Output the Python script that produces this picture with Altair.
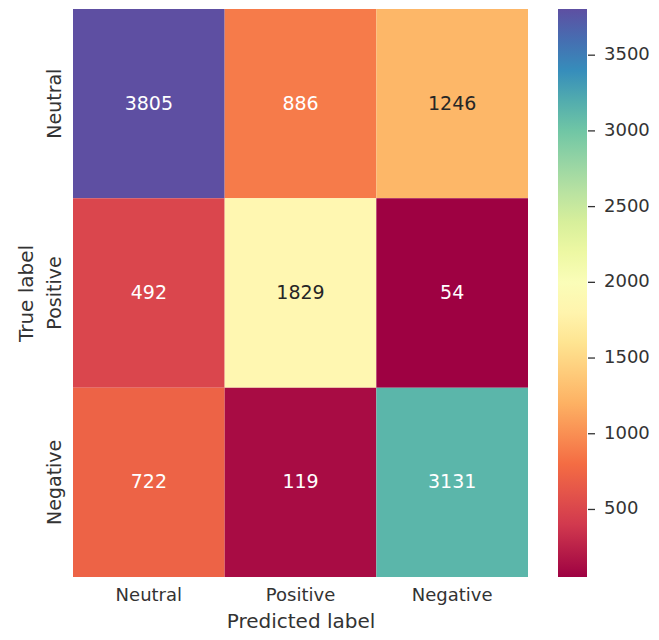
import altair as alt
import pandas as pd

labels = ["Neutral", "Positive", "Negative"]
true_labels = ["Neutral", "Neutral", "Neutral",
               "Positive", "Positive", "Positive",
               "Negative", "Negative", "Negative"]
pred_labels = ["Neutral", "Positive", "Negative"] * 3
counts = [3805, 886, 1246,
          492, 1829, 54,
          722, 119, 3131]
cbar_ticks = [500, 1000, 1500, 2000, 2500, 3000, 3500]

vmin, vmax = 54, 3805
spectral = ['#9e0142', '#d53e4f', '#f46d43', '#fdae61', '#fee08b', '#ffffbf',
            '#e6f598', '#abdda4', '#66c2a5', '#3288bd', '#5e4fa2']
stops = [vmin + i * (vmax - vmin) / 10 for i in range(11)]

df = pd.DataFrame({"true": true_labels, "pred": pred_labels, "value": counts})
ticks_df = pd.DataFrame({"t": cbar_ticks})

W, H = 455, 568
TXT = "#333333"
LEG_OFF = 30
GT = 29

x_enc = alt.X("pred:N", sort=labels,
              scale=alt.Scale(paddingInner=0, paddingOuter=0),
              axis=alt.Axis(title="Predicted label", labelAngle=0, ticks=False, tickSize=0,
                            domain=False, labelPadding=9, labelFontSize=18,
                            labelColor=TXT, titleFontSize=20, titleColor=TXT,
                            titleFontWeight="normal", titleBaseline="alphabetic",
                            titleX=W / 2, titleY=50, titleAlign="center"))
y_enc = alt.Y("true:N", sort=labels,
              scale=alt.Scale(paddingInner=0, paddingOuter=0),
              axis=alt.Axis(title="True label", labelAngle=270, labelAlign="center",
                            labelBaseline="alphabetic", ticks=False, tickSize=0,
                            domain=False, labelPadding=13, labelFontSize=19,
                            labelColor=TXT, titleFontSize=20, titleColor=TXT,
                            titleFontWeight="normal", titleAngle=270,
                            titleBaseline="alphabetic", titleX=-41, titleY=H / 2,
                            titleAlign="center"))

rect = alt.Chart(df).mark_rect().encode(
    x=x_enc,
    y=y_enc,
    color=alt.Color("value:Q", title=None,
                    scale=alt.Scale(domain=stops, range=spectral, interpolate="rgb"),
                    legend=alt.Legend(orient="none", legendX=W + LEG_OFF, legendY=0,
                                      direction="vertical",
                                      padding=0, gradientLength=H, gradientThickness=GT,
                                      gradientStrokeWidth=0, values=cbar_ticks, format="d",
                                      labelFontSize=18, labelColor=TXT, labelOffset=17,
                                      labelAlign="left", labelOverlap=False)),
)

text = alt.Chart(df).mark_text(fontSize=19, font="DejaVu Sans").encode(
    x=x_enc,
    y=alt.Y("true:N", sort=labels, scale=alt.Scale(paddingInner=0, paddingOuter=0), axis=None),
    text=alt.Text("value:Q", format="d"),
    color=alt.condition("datum.value > 1000 && datum.value < 2800",
                        alt.value("#262626"), alt.value("#ffffff")),
)

yq = alt.Y("t:Q", scale=alt.Scale(domain=[vmin, vmax], nice=False, zero=False), axis=None)
cbar_tick_marks = alt.Chart(ticks_df).mark_rule(color=TXT, strokeWidth=1.3).encode(
    y=yq, x=alt.value(W + LEG_OFF + GT + 1), x2=alt.value(W + LEG_OFF + GT + 8))

chart = alt.layer(rect, text, cbar_tick_marks).resolve_scale(
    y="independent"
).properties(
    width=W, height=H,
    autosize=alt.AutoSizeParams(type="none"),
    padding={"left": 65, "top": 1, "right": 123, "bottom": 55},
).configure(font="DejaVu Sans").configure_view(strokeWidth=0)

chart.save("out.html", embed_options={"renderer": "svg", "actions": False})
